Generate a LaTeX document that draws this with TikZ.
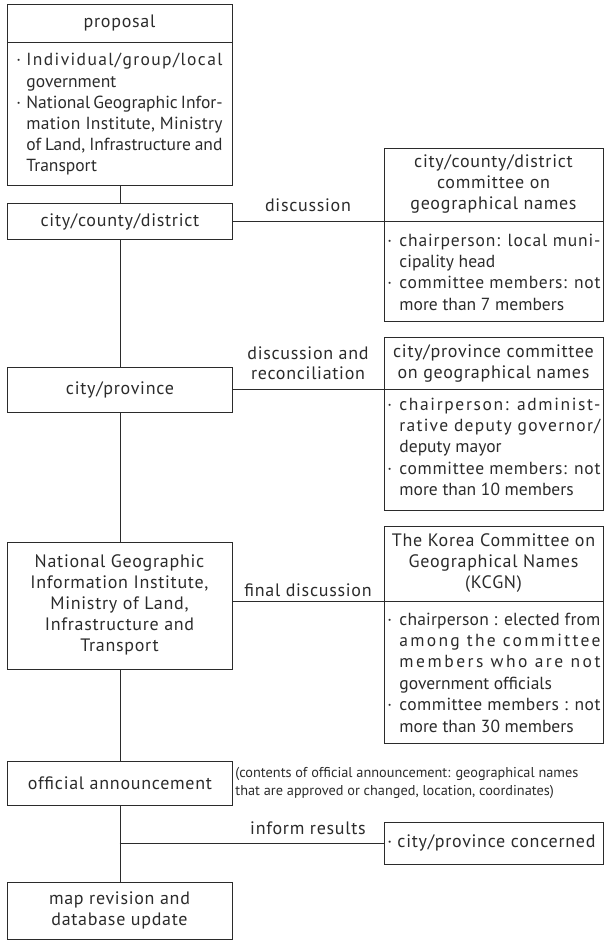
\documentclass[tikz,border=0pt]{standalone}
\usepackage{fontspec}
\setmainfont{PT Sans}[LetterSpace=4]
\newfontfamily\bodyfont{PT Sans}
\newfontfamily\notefont{PT Sans}
\usetikzlibrary{calc}
\definecolor{ink}{HTML}{2B2B2B}
\newlength\justwa
\newlength\justwb
\newcommand{\just}[2]{%
  \settowidth\justwa{\addfontfeature{LetterSpace=0}#2}%
  \settowidth\justwb{\addfontfeature{LetterSpace=10}#2}%
  \pgfmathsetmacro\justls{max(0,min(40,10*(#1-\justwa)/(\justwb-\justwa)))}%
  \makebox[#1pt][s]{\addfontfeature{LetterSpace=\justls}#2}}
\newcommand{\bulr}{\makebox[12pt][l]{·}}
\newcommand{\indr}{\hspace*{12pt}}
\newcommand{\bull}{\makebox[10pt][l]{·}}
\newcommand{\indl}{\hspace*{10pt}}
\newcommand{\jr}[1]{\just{201}{#1}}
\newcommand{\jp}[1]{\just{196}{#1}}
\begin{document}
\begin{tikzpicture}[x=1pt,y=-1pt,line width=0.9pt,color=ink,
  lbox/.style={draw,rectangle,inner sep=0pt,minimum width=225pt,anchor=north west},
  rbox/.style={draw,rectangle,inner sep=0pt,minimum width=219pt,anchor=north west},
  ctext/.style={inner sep=0pt,align=center,font=\fontsize{18}{21}\selectfont},
  btext/.style={inner sep=0pt,align=left,anchor=north west,font=\bodyfont\fontsize{17.5}{21.4}\selectfont},
  lbl/.style={inner sep=0pt,align=center,font=\fontsize{18}{20}\selectfont},
  note/.style={inner sep=0pt,align=left,anchor=west,font=\notefont\fontsize{14.3}{17.5}\selectfont}]
\useasboundingbox (0,0) rectangle (604,941);

% left column boxes
\node[lbox,minimum height=181pt] (prop) at (7,4) {};
\node[lbox,minimum height=36pt] (ccd) at (7,203) {};
\node[lbox,minimum height=45pt] (cp) at (7,367) {};
\node[lbox,minimum height=127pt] (ngii) at (7,542) {};
\node[lbox,minimum height=44pt] (off) at (7,761) {};
\node[lbox,minimum height=57pt] (map) at (7,882) {};

% right column boxes
\node[rbox,minimum height=173pt] (ccdcom) at (384,148) {};
\node[rbox,minimum height=173pt] (cpcom) at (384,337) {};
\node[rbox,minimum height=217pt] (kcgn) at (384,526) {};
\node[rbox,minimum height=42pt] (conc) at (384,822) {};

% separators
\coordinate (propsep) at (0,42);
\coordinate (ccdsep) at (0,221);
\coordinate (cpsep) at (0,389.5);
\coordinate (kcgnsep) at (0,601);
\coordinate (branch) at (119.5,843);
\draw (prop.west |- propsep) -- (prop.east |- propsep);
\draw (ccdcom.west |- ccdsep) -- (ccdcom.east |- ccdsep);
\draw (cpcom.west |- cpsep) -- (cpcom.east |- cpsep);
\draw (kcgn.west |- kcgnsep) -- (kcgn.east |- kcgnsep);

% left texts
\node[ctext] (proph) at (119.5,23) {proposal};
\node[btext,font=\bodyfont\fontsize{17.5}{21.2}\selectfont] (propb) at (16,50.7) {\strut\bull\jp{Individual/group/local}\\
\indl government\\
\bull\jp{National Geographic Infor-}\\
\indl\jp{mation Institute, Ministry}\\
\indl\jp{of Land, Infrastructure and}\\
\indl Transport};
\node[ctext] (ccdt) at (ccd.center) {city/county/district};
\node[ctext] (cpt) at (cp.center) {city/province};
\node[ctext] (ngiit) at (119.5,605) {National Geographic\\Information Institute,\\Ministry of Land,\\Infrastructure and\\Transport};
\node[ctext] (offt) at (off.center) {official announcement};
\node[ctext] (mapt) at (119.5,910.5) {map revision and\\database update};

% right texts
\node[ctext] (ccdcomh) at (493.5,184) {city/county/district\\committee on\\geographical names};
\node[btext] (ccdcomb) at (387,230.7) {\strut\bulr\jr{chairperson: local muni-}\\
\indr cipality head\\
\bulr\jr{committee members: not}\\
\indr more than 7 members};
\node[ctext] (cpcomh) at (493.5,363) {city/province committee\\on geographical names};
\node[btext] (cpcomb) at (387,394.7) {\strut\bulr\jr{chairperson: administ-}\\
\indr\jr{rative deputy governor/}\\
\indr deputy mayor\\
\bulr\jr{committee members: not}\\
\indr more than 10 members};
\node[ctext] (kcgnh) at (493.5,563) {The Korea Committee on\\Geographical Names\\(KCGN)};
\node[btext] (kcgnb) at (387,609.7) {\strut\bulr\jr{chairperson : elected from}\\
\indr\jr{among the committee}\\
\indr\jr{members who are not}\\
\indr government officials\\
\bulr\jr{committee members : not}\\
\indr more than 30 members};
\node[ctext,anchor=west] (conct) at (387,843) {\makebox[10pt][l]{·}city/province concerned};

% note
\node[note] (notet) at (235,783) {(contents of official announcement: geographical names\\that are approved or changed, location, coordinates)};

% vertical connectors
\draw (prop.south) -- (ccd.north);
\draw (ccd.south) -- (cp.north);
\draw (cp.south) -- (ngii.north);
\draw (ngii.south) -- (off.north);
\draw (off.south) -- (map.north);

% horizontal connectors
\draw (ccd.east |- ccdsep) -- (ccdcom.west |- ccdsep);
\draw (cp.east |- cpsep) -- (cpcom.west |- cpsep);
\draw (ngii.east |- kcgnsep) -- (kcgn.west |- kcgnsep);
\draw (branch) -- (conc.west |- branch);

% labels
\node[lbl] (l1) at (308,205) {discussion};
\node[lbl] (l2) at (308,363) {discussion and\\reconciliation};
\node[lbl] (l3) at (308,590) {final discussion};
\node[lbl] (l4) at (308,828) {inform results};
\end{tikzpicture}
\end{document}
